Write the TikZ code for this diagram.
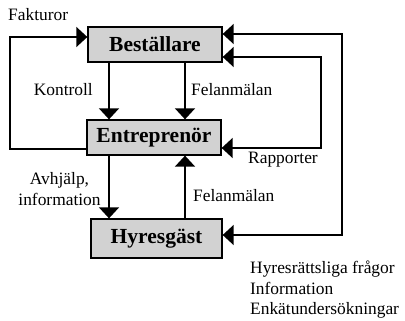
\documentclass[tikz,border=0pt]{standalone}
\usepackage{fontspec}
\setmainfont{Liberation Serif}
\usetikzlibrary{arrows.meta,calc}
\begin{document}
\begin{tikzpicture}[x=1pt,y=-1pt,
  box/.style={draw=black,line width=1.3pt,fill=gray!35,inner sep=0pt,
    font=\fontsize{21.5}{25}\selectfont\bfseries},
  lbl/.style={inner sep=0pt,font=\fontsize{17.4}{20.5}\selectfont},
  conn/.style={line width=1.4pt},
  arr/.style={conn,-{Triangle[width=20pt,length=11pt]}},
  darr/.style={conn,{Triangle[width=20pt,length=11pt]}-{Triangle[width=20pt,length=11pt]}}]
\useasboundingbox (0,0) rectangle (405,321);
\node[box,minimum width=134pt,minimum height=35pt] (B) at (155,44.5) {Beställare};
\node[box,minimum width=134pt,minimum height=35pt] (E) at (154,137.5) {Entreprenör};
\node[box,minimum width=131pt,minimum height=39pt] (H) at (156.5,238.5) {Hyresgäst};
\coordinate (xa) at (109,0);
\coordinate (xb) at (185,0);
\coordinate (L) at (10,37);
\coordinate (R1) at (342,34);
\coordinate (R2) at (321,57);
% vertical arrows
\draw[arr] (B.south -| xa) -- (E.north -| xa);
\draw[arr] (B.south -| xb) -- (E.north -| xb);
\draw[arr] (E.south -| xa) -- (H.north -| xa);
\draw[arr] (H.north -| xb) -- (E.south -| xb);
% loops
\draw[arr] ($(E.west)+(0,11.5)$) -| (L) -- (B.west |- L);
\draw[darr] ($(E.east)+(0,10.5)$) -| (R2) -- (B.east |- R2);
\draw[darr] ($(H.east)+(0,-3.5)$) -| (R1) -- (B.east |- R1);
% labels
\node[lbl,anchor=west] (lf) at (8,15) {Fakturor};
\node[lbl,anchor=east] (lk) at (93,90) {Kontroll};
\node[lbl,anchor=west] (lf1) at (191,90) {Felanmälan};
\node[lbl,anchor=west] (lr) at (248,160) {Rapporter};
\node[lbl,align=center] (la) at (59.5,189) {Avhjälp,\\information};
\node[lbl,anchor=west] (lf2) at (193,196) {Felanmälan};
\node[lbl,align=left,anchor=west] (lh) at (250,290) {Hyresrättsliga frågor\\Information\\Enkätundersökningar};
\end{tikzpicture}
\end{document}
